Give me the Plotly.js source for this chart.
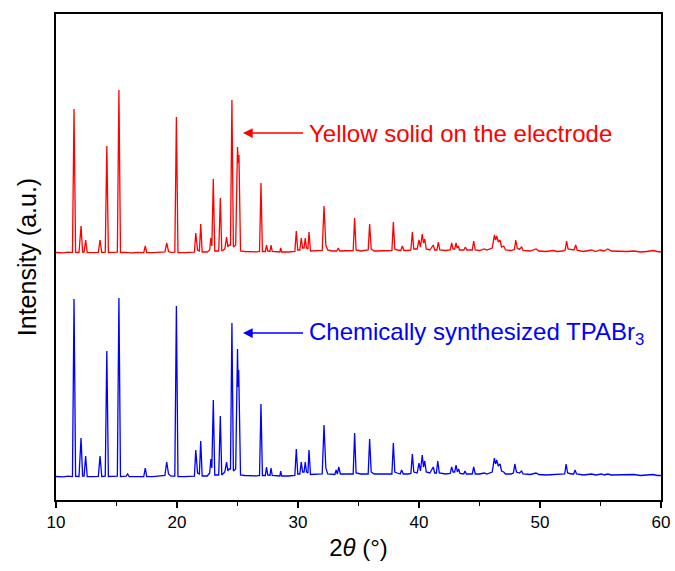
<!DOCTYPE html>
<html>
<head>
<meta charset="utf-8">
<script src="https://cdn.plot.ly/plotly-3.0.1.min.js"></script>
<style>
  html, body { margin: 0; padding: 0; background: #fff; }
  #chart { width: 675px; height: 571px; }
</style>
</head>
<body>
<div id="chart"></div>
<script>
// Powder XRD patterns, [2θ (°), intensity (a.u.)] pairs.
const electrodeSolid = [
  [10.0,0.5],[10.6,0.2],[11.0,0.8],[11.36,0.4],[11.49,144],[11.62,0.6],[11.9,0.5],[12.07,27],[12.2,1],[12.32,1],
  [12.45,13],[12.58,0.5],[13.0,0.3],[13.5,0.6],[13.64,13],[13.78,0.5],[14.07,0.8],[14.20,107],[14.33,0.5],[14.7,0.4],
  [15.07,0.8],[15.20,163],[15.33,0.5],[15.7,0.6],[16.2,0.2],[16.8,0.5],[17.25,0.4],[17.38,7],[17.5,0.5],[18.0,0.3],
  [18.6,0.6],[19.0,1],[19.15,10],[19.3,1.5],[19.5,0.6],[19.82,0.8],[19.95,136],[20.08,0.5],[20.6,0.4],[21.2,0.6],
  [21.44,0.8],[21.55,20],[21.7,3],[21.85,2],[21.96,29],[22.08,1],[22.5,1],[22.7,3],[22.8,15],[22.88,7],
  [23.0,74],[23.12,2],[23.45,2],[23.58,55],[23.7,2],[23.95,4],[24.1,16],[24.2,6],[24.3,8],[24.42,8],
  [24.54,153],[24.66,6],[24.85,8],[25.0,106],[25.06,90],[25.12,98],[25.25,2],[25.6,1.5],[26.2,1],[26.6,1.2],
  [26.82,1.5],[26.94,70],[27.06,1.5],[27.3,1.5],[27.4,8],[27.5,2],[27.68,1.5],[27.77,8],[27.87,1.5],[28.2,1],
  [28.5,1],[28.57,5],[28.65,1],[29.2,1],[29.74,1.5],[29.86,22],[29.98,3],[30.15,3],[30.27,15],[30.38,5],
  [30.5,5],[30.6,15],[30.7,5],[30.82,4],[30.91,21],[31.03,2],[31.5,2],[32.0,2.5],[32.15,47],[32.3,8],
  [32.45,3],[32.8,2],[33.2,2],[33.33,5],[33.45,2],[34.0,2],[34.56,2.5],[34.68,35],[34.8,3],[35.2,2],
  [35.8,3],[35.92,29],[36.05,4],[36.3,2],[37.0,2],[37.76,2.5],[37.88,31],[38.0,4],[38.2,3],[38.5,2.5],
  [38.62,7],[38.75,2.5],[39.1,2.5],[39.33,3],[39.45,21],[39.57,4],[39.85,4],[40.0,13],[40.12,6],[40.27,19],
  [40.37,10],[40.47,14],[40.6,4],[40.9,3],[41.18,8],[41.3,3],[41.48,3],[41.6,11],[41.72,3],[42.2,2.5],
  [42.58,3],[42.7,10],[42.82,4],[42.95,4],[43.06,10],[43.15,5],[43.25,7],[43.35,3],[43.7,3],[43.83,6],
  [43.95,3],[44.4,3],[44.52,12],[44.65,3],[45.0,2.5],[45.4,4],[45.6,3],[46.05,5],[46.23,18],[46.32,13],
  [46.42,17],[46.55,11],[46.7,13],[46.82,6],[47.0,7],[47.15,3],[47.6,2.5],[47.88,3.5],[48.0,13],[48.12,5],
  [48.3,3.5],[48.48,6],[48.6,2.5],[49.2,2],[49.67,4],[49.9,2],[50.5,1.5],[51.1,2.5],[51.4,1.5],[51.9,2],
  [52.08,3],[52.2,12],[52.32,4],[52.6,3],[52.8,3],[52.95,8],[53.08,2.5],[53.6,1.5],[54.27,3],[54.6,1.5],
  [54.96,3],[55.3,2],[55.6,4],[55.9,2],[56.5,1.5],[57.2,1.5],[57.77,2],[58.3,1],[58.8,1.5],[59.34,2.5],
  [59.7,1.5],[60.0,1]
];

const synthesizedTPABr3 = [
  [10.0,0.5],[10.6,0.2],[11.0,0.8],[11.36,0.4],[11.49,178],[11.62,0.6],[11.9,0.5],[12.07,39],[12.2,1],[12.32,1],
  [12.45,21],[12.58,0.5],[13.0,0.3],[13.5,0.6],[13.64,21],[13.78,0.5],[14.07,0.8],[14.20,126],[14.33,0.5],[14.7,0.4],
  [15.07,0.8],[15.20,179],[15.33,0.5],[15.8,0.8],[15.92,3],[16.05,0.5],[16.8,0.5],[17.25,0.4],[17.38,9],[17.5,0.5],
  [18.0,0.3],[18.6,0.6],[19.0,1.5],[19.15,15],[19.3,3],[19.5,0.8],[19.82,0.8],[19.95,171],[20.08,0.5],[20.6,0.4],
  [21.2,0.6],[21.44,0.8],[21.55,27],[21.7,4],[21.85,3],[21.96,36],[22.08,1],[22.5,1],[22.7,4],[22.8,18],
  [22.88,9],[23.0,77],[23.12,2],[23.45,2],[23.58,61],[23.7,2],[23.95,5],[24.1,15],[24.2,6],[24.3,8],
  [24.42,8],[24.54,154],[24.66,6],[24.85,8],[25.0,128],[25.05,90],[25.1,107],[25.25,2],[25.6,1.5],[26.2,1],
  [26.6,1.2],[26.82,1.5],[26.94,73],[27.06,1.5],[27.3,1.5],[27.4,10],[27.5,2],[27.68,1.5],[27.77,9],[27.87,1.5],
  [28.2,1],[28.5,1],[28.57,6],[28.65,1],[29.2,1],[29.74,1.5],[29.86,28],[29.98,3],[30.15,3],[30.27,15],
  [30.38,5],[30.5,5],[30.6,15],[30.7,5],[30.82,4],[30.91,27],[31.03,2.5],[31.5,2.5],[32.0,3],[32.15,52],
  [32.3,9],[32.45,3],[32.8,2.5],[33.05,2.5],[33.15,7],[33.25,3],[33.37,10],[33.5,3],[34.0,3],[34.56,3],
  [34.68,44],[34.8,4],[35.2,3],[35.8,3],[35.92,38],[36.05,5],[36.3,3],[37.0,3],[37.76,3],[37.88,34],
  [38.0,5],[38.2,4],[38.45,3],[38.56,7],[38.7,3],[39.1,3],[39.33,3.5],[39.45,23],[39.57,5],[39.85,4],
  [40.0,14],[40.12,6],[40.27,22],[40.37,10],[40.47,16],[40.6,5],[40.9,4],[41.18,10],[41.3,4],[41.44,4],
  [41.55,16],[41.68,4],[42.2,3],[42.58,3.5],[42.7,10],[42.82,5],[42.95,5],[43.06,12],[43.17,5],[43.28,8],
  [43.38,3.5],[43.7,3],[43.8,6],[43.92,3],[44.4,3],[44.52,10],[44.65,3],[45.0,3],[45.4,4],[45.6,3],
  [46.05,5],[46.23,19],[46.32,13],[46.42,17],[46.55,11],[46.7,13],[46.82,6],[47.0,5],[47.15,3],[47.6,3],
  [47.8,4],[47.92,13],[48.05,5],[48.3,4],[48.48,6],[48.6,3],[49.2,2.5],[49.67,4],[49.9,2.5],[50.5,2],
  [51.1,2.5],[51.4,2],[51.9,2.5],[52.04,3],[52.16,13],[52.28,4],[52.6,3],[52.78,3],[52.9,7],[53.02,3],
  [53.6,2],[54.27,3],[54.6,2],[55.1,3],[55.3,2],[55.6,3],[55.9,2],[56.5,2],[56.8,2.5],[57.2,2],
  [57.77,2.5],[58.3,1.5],[58.8,2],[59.34,2.5],[59.7,1.5],[60.0,1.5]
];

const seriesLabels = ['Yellow solid on the electrode', 'Chemically synthesized TPABr<sub>3</sub>'];
const xTickValues = [10, 20, 30, 40, 50, 60];

// vertical stacking of the two patterns
const STACK_OFFSET = 224;
const FONT = '"Liberation Sans", Arial, sans-serif';

const traces = [
  {
    x: synthesizedTPABr3.map(p => p[0]),
    y: synthesizedTPABr3.map(p => p[1]),
    type: 'scatter', mode: 'lines',
    line: { color: '#0000ff', width: 1.3 },
    hoverinfo: 'x+y', showlegend: false
  },
  {
    x: electrodeSolid.map(p => p[0]),
    y: electrodeSolid.map(p => p[1] + STACK_OFFSET),
    type: 'scatter', mode: 'lines',
    line: { color: '#ff0000', width: 1.3 },
    hoverinfo: 'x+y', showlegend: false
  }
];

// label whose arrow points left at the double peak near 25°
function arrowLabel(yLevel, color, text) {
  return {
    x: 25.45, y: yLevel, ax: 30.75, ay: yLevel,
    xref: 'x', yref: 'y', axref: 'x', ayref: 'y',
    xanchor: 'left', yanchor: 'middle',
    text: text, showarrow: true,
    arrowhead: 2, arrowsize: 1.3, arrowwidth: 1.5, arrowcolor: color,
    standoff: 0, startstandoff: 4,
    font: { family: FONT, size: 24, color: color }
  };
}

const layout = {
  width: 675, height: 571,
  margin: { l: 56, r: 14, t: 14, b: 71 },
  paper_bgcolor: '#ffffff', plot_bgcolor: '#ffffff',
  font: { family: FONT, color: '#000' },
  xaxis: {
    range: [10, 60],
    tickvals: xTickValues,
    ticktext: xTickValues.map(String),
    ticks: 'outside', ticklen: 6, tickwidth: 1.6, tickcolor: '#000',
    minor: { dtick: 5, tick0: 10, ticks: 'outside', ticklen: 4, tickwidth: 1.4, tickcolor: '#000' },
    showline: true, linecolor: '#000', linewidth: 2, mirror: true,
    showgrid: false, zeroline: false,
    tickfont: { family: FONT, size: 17, color: '#000' },
    title: { text: '2<i>θ</i> (°)', font: { family: FONT, size: 24, color: '#000' }, standoff: 8 }
  },
  yaxis: {
    range: [-23, 463],
    showticklabels: false, ticks: '',
    showline: true, linecolor: '#000', linewidth: 2, mirror: true,
    showgrid: false, zeroline: false,
    title: { text: 'Intensity (a.u.)', font: { family: FONT, size: 25, color: '#000' }, standoff: 10 }
  },
  annotations: [
    arrowLabel(344, '#ff0000', seriesLabels[0]),
    arrowLabel(144, '#0000ff', seriesLabels[1])
  ]
};

Plotly.newPlot('chart', traces, layout, { displayModeBar: false, staticPlot: true });
</script>
</body>
</html>
